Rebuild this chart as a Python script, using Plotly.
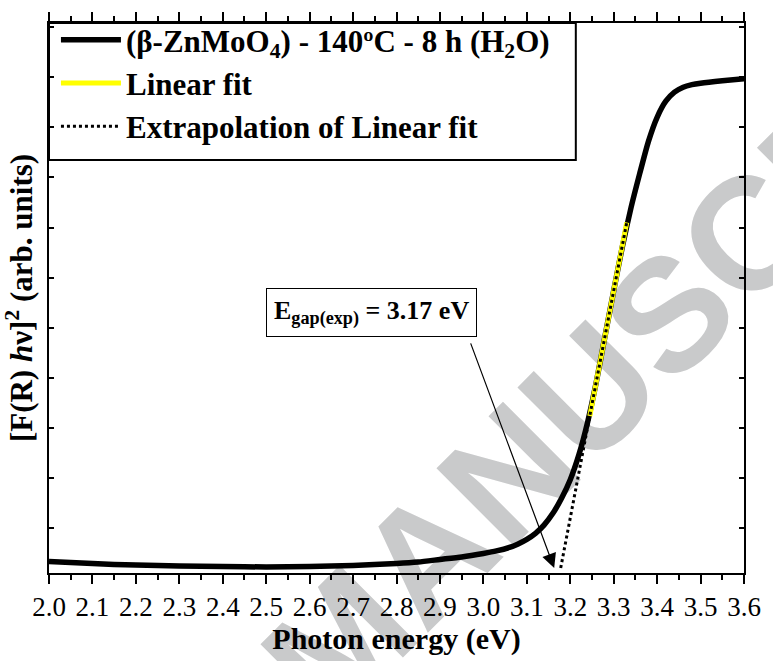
import plotly.graph_objects as go

# ---- data ----
energy = [2.00, 2.05, 2.10, 2.15, 2.20, 2.30, 2.40, 2.50, 2.60, 2.70, 2.80, 2.85,
          2.90, 2.95, 3.00, 3.03, 3.06, 3.08, 3.10, 3.12, 3.14, 3.16, 3.18, 3.20,
          3.22, 3.24, 3.26, 3.28, 3.30, 3.32, 3.34, 3.36, 3.38, 3.40, 3.42, 3.44,
          3.46, 3.48, 3.50, 3.55, 3.60]
signal = [-0.66, -0.68, -0.70, -0.72, -0.73, -0.75, -0.76, -0.77, -0.76, -0.74, -0.70, -0.67,
          -0.62, -0.57, -0.50, -0.45, -0.38, -0.31, -0.22, -0.10, 0.07, 0.30, 0.60, 0.97,
          1.47, 2.12, 2.92, 3.83, 4.74, 5.62, 6.40, 7.08, 7.72, 8.20, 8.52, 8.70,
          8.80, 8.85, 8.88, 8.93, 8.97]

fit_x = [3.245, 3.330]
fit_y = [2.24, 6.10]

extrap_x = [3.178, 3.330]
extrap_y = [-0.79, 6.10]

arrow_tail = (2.9695, 3.72)
arrow_head = (3.163, -0.79)
label_pos = (2.742, 4.30)

x_ticks = [2.0, 2.1, 2.2, 2.3, 2.4, 2.5, 2.6, 2.7, 2.8, 2.9, 3.0, 3.1, 3.2, 3.3, 3.4, 3.5, 3.6]
x_ticklabels = ["%.1f" % v for v in x_ticks]

FONT = "Liberation Serif"

fig = go.Figure()
fig.add_trace(go.Scatter(
    x=energy, y=signal, mode="lines",
    name="<b>(β-ZnMoO<sub>4</sub>) - 140ºC - 8 h (H<sub>2</sub>O)</b>",
    line=dict(color="black", width=5.5, shape="spline", smoothing=0.6)))
fig.add_trace(go.Scatter(
    x=fit_x, y=fit_y, mode="lines", name="<b>Linear fit</b>",
    line=dict(color="#ffff00", width=5)))
fig.add_trace(go.Scatter(
    x=extrap_x, y=extrap_y, mode="lines", name="<b>Extrapolation of Linear fit</b>",
    line=dict(color="black", width=3, dash="dot")))

# annotation box and arrow
fig.add_annotation(
    x=label_pos[0], y=label_pos[1], xref="x", yref="y",
    text="<b>E<sub>gap(exp)</sub> = 3.17 eV</b>", showarrow=False,
    font=dict(family=FONT, size=26, color="black"),
    bordercolor="black", borderwidth=1, borderpad=7, bgcolor="white")
fig.add_annotation(
    x=arrow_head[0], y=arrow_head[1], xref="x", yref="y",
    ax=arrow_tail[0], ay=arrow_tail[1], axref="x", ayref="y",
    text="", showarrow=True, arrowhead=2, arrowsize=2.4, arrowwidth=1.2,
    arrowcolor="black", standoff=0, startstandoff=0)

# watermark (behind the data)
fig.add_shape(
    type="rect", xref="paper", yref="paper", x0=0.401, x1=0.411, y0=-0.108, y1=-0.098,
    line=dict(width=0), fillcolor="rgba(0,0,0,0)", layer="below",
    label=dict(text="<b>ACCEPTED MANUSCRIPT</b>", textangle=-45,
               textposition="middle center",
               font=dict(family="Liberation Sans", size=160, color="#c9cacb")))

# legend frame
fig.add_shape(
    type="rect", xref="paper", yref="paper", x0=0, x1=0.758, y0=0.751, y1=1.0,
    line=dict(color="black", width=2), fillcolor="white", layer="below")

fig.update_layout(
    width=773, height=661,
    margin=dict(l=49, r=21, t=12, b=83),
    paper_bgcolor="white", plot_bgcolor="white",
    font=dict(family=FONT, color="black"),
    showlegend=True,
    legend=dict(x=0.01, y=1.018, xanchor="left", yanchor="top",
                borderwidth=0, bgcolor="rgba(0,0,0,0)",
                font=dict(family=FONT, size=31, color="black"),
                itemwidth=60, tracegroupgap=0),
    xaxis=dict(range=[2.0, 3.6], tickmode="array", tickvals=x_ticks, ticktext=x_ticklabels,
               ticks="outside", ticklen=9, tickwidth=2, tickcolor="black",
               minor=dict(ticks="outside", ticklen=5, tickwidth=2, dtick=0.05, tickcolor="black"),
               showline=True, linewidth=2, linecolor="black", mirror="ticks",
               showgrid=False, zeroline=False,
               tickfont=dict(family=FONT, size=27, color="black"),
               title=dict(text="<b>Photon energy (eV)</b>", standoff=6,
                          font=dict(family=FONT, size=30, color="black"))),
    yaxis=dict(range=[-0.89, 10.08], tick0=0, dtick=1,
               ticks="inside", ticklen=5, tickwidth=2, tickcolor="black",
               showticklabels=False,
               showline=True, linewidth=2, linecolor="black", mirror="ticks",
               showgrid=False, zeroline=False,
               title=dict(text="<b>[F(R) <i>h</i>ν]<sup>2</sup> (arb. units)</b>", standoff=8,
                          font=dict(family=FONT, size=31, color="black"))),
)

fig.write_html("out.html")
